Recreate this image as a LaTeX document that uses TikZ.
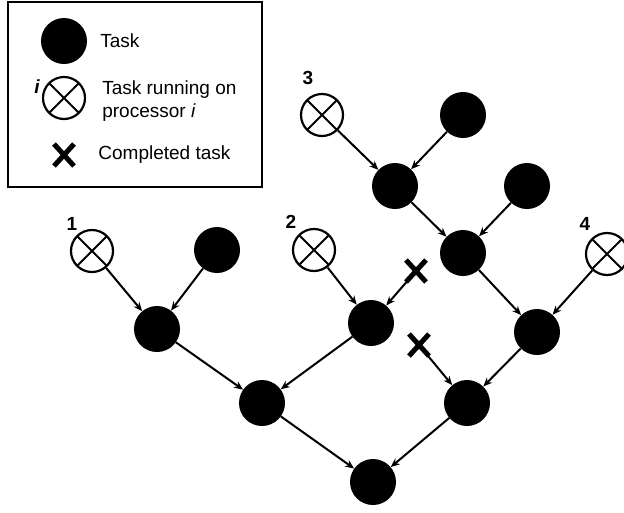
\documentclass[tikz,border=0pt]{standalone}
\usepackage{fontspec}
\setmainfont{Liberation Sans}
\usepackage{tikz}
\usetikzlibrary{positioning, arrows.meta}

\begin{document}
\begin{tikzpicture}[
        >={Stealth[length=9pt, width=7.5pt]},
        every node/.style={font=\fontsize{19pt}{23pt}\selectfont},
        task/.style={on grid, circle, fill=black, inner sep=0pt, minimum size=46pt},
        proc/.style={on grid, circle, draw, line width=2.2pt, fill=white, inner sep=0pt, minimum size=42pt,
            path picture={\draw[line width=2pt] (path picture bounding box.north west) -- (path picture bounding box.south east)
                (path picture bounding box.north east) -- (path picture bounding box.south west);}},
        done/.style={on grid, inner sep=0pt, minimum size=26pt,
            path picture={\draw[line width=5pt] ([shift={(-10pt,-11pt)}]path picture bounding box.center) -- ([shift={(10pt,11pt)}]path picture bounding box.center)
                ([shift={(-10pt,11pt)}]path picture bounding box.center) -- ([shift={(10pt,-11pt)}]path picture bounding box.center);}},
        num/.style={on grid, inner sep=0pt, font=\fontsize{19pt}{23pt}\selectfont\bfseries},
        txt/.style={inner sep=0pt, align=left},
        edge/.style={->, line width=2pt},
    ]
        \useasboundingbox (0,0) rectangle (624pt,-512pt);

        % Legend
        \draw[line width=2pt] (8pt,-2pt) rectangle (262pt,-187pt);
        \node[task] (lt) at (64pt,-41pt) {};
        \node[proc, below=57pt of lt] (lr) {};
        \node[done, below=57pt of lr] (lx) {};
        \node[num, above left=11pt and 27pt of lr] (li) {\itshape i};
        \node[txt, right=13pt of lt] (ltt) {Task};
        \node[txt, right=16pt of lr, yshift=-3pt] (lrt) {Task running on\\processor \textit{i}};
        \node[txt, right=21pt of lx] (lxt) {Completed task};

        % Upper branch
        \node[task] (t3) at (395pt,-186pt) {};
        \node[proc, above left=71pt and 73pt of t3] (p3) {};
        \node[task, above right=71pt and 68pt of t3] (t1) {};
        \node[task, below right=67pt and 68pt of t3] (t5) {};
        \node[task, above right=67pt and 64pt of t5] (t4) {};
        \node[task, below right=79pt and 74pt of t5] (c) {};
        \node[proc, above right=78pt and 70pt of c] (p4) {};
        \node[task, below left=71pt and 70pt of c] (e) {};
        \node[done, above left=58pt and 48pt of e] (xb) {};
        % Root and left part
        \node[task, below left=79pt and 94pt of e] (r) {};
        \node[task, above left=79pt and 111pt of r] (d) {};
        \node[task, above right=80pt and 109pt of d] (b) {};
        \node[done, above right=52pt and 45pt of b] (xa) {};
        \node[proc, above left=73pt and 57pt of b] (p2) {};
        \node[task, above left=74pt and 105pt of d] (a) {};
        \node[proc, above left=78pt and 65pt of a] (p1) {};
        \node[task, above right=79pt and 60pt of a] (t2) {};
        % Processor numbers
        \node[num, above left=27pt and 20pt of p1] (n1) {1};
        \node[num, above left=28pt and 23pt of p2] (n2) {2};
        \node[num, above left=37pt and 14pt of p3] (n3) {3};
        \node[num, above left=30pt and 22pt of p4] (n4) {4};

        \draw[edge] (p3) -- (t3);
        \draw[edge] (t1) -- (t3);
        \draw[edge] (t3) -- (t5);
        \draw[edge] (t4) -- (t5);
        \draw[edge] (t5) -- (c);
        \draw[edge] (p4) -- (c);
        \draw[edge] (c) -- (e);
        \draw[edge] (xb.center) -- (e);
        \draw[edge] (p1) -- (a);
        \draw[edge] (t2) -- (a);
        \draw[edge] (p2) -- (b);
        \draw[edge] (xa.center) -- (b);
        \draw[edge] (a) -- (d);
        \draw[edge] (b) -- (d);
        \draw[edge] (d) -- (r);
        \draw[edge] (e) -- (r);
    \end{tikzpicture}
\end{document}
